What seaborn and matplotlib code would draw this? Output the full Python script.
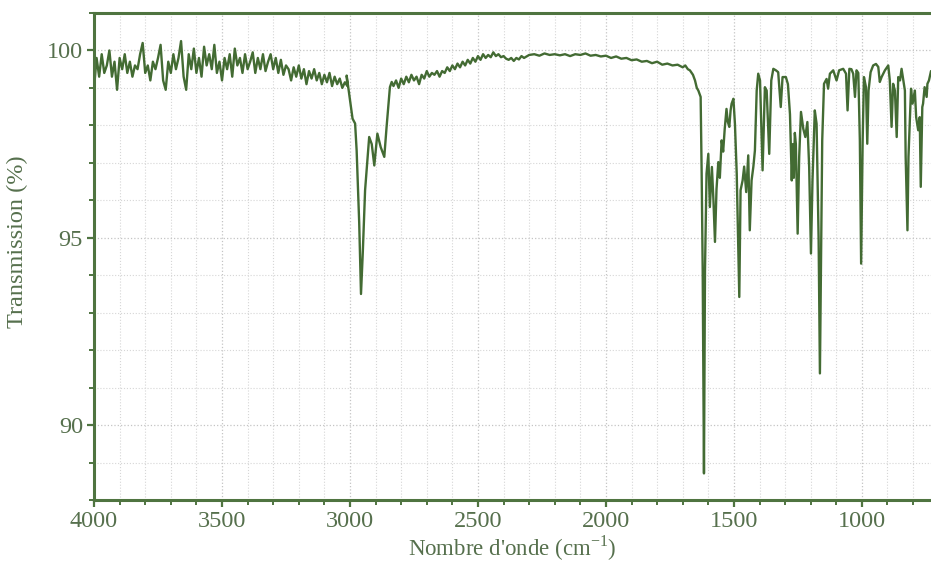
import numpy as np
import pandas as pd
import matplotlib
matplotlib.use("Agg")
import matplotlib.pyplot as plt
from matplotlib.ticker import MultipleLocator
import seaborn as sns

# ======== DATA ========
# noisy baseline region, 4000 -> 3010 cm-1, every 10 cm-1
wn_noise = np.arange(4000, 3000, -10)
t_noise = [
    99.0, 99.8, 99.3, 99.9, 99.4, 99.6, 100.0, 99.3, 99.7, 98.95,
    99.8, 99.5, 99.9, 99.4, 99.7, 99.3, 99.6, 99.5, 99.9, 100.2,
    99.4, 99.6, 99.2, 99.7, 99.5, 99.8, 100.15, 99.2, 98.95, 99.7,
    99.4, 99.9, 99.5, 99.8, 100.25, 99.3, 98.95, 99.9, 99.5, 100.05,
    99.4, 99.8, 99.3, 100.1, 99.6, 99.9, 99.5, 100.15, 99.4, 99.7,
    99.2, 99.8, 99.5, 99.9, 99.3, 100.05, 99.6, 99.8, 99.4, 99.9,
    99.5, 99.7, 99.95, 99.4, 99.8, 99.5, 99.9, 99.45, 99.7, 99.9,
    99.5, 99.8, 99.4, 99.75, 99.35, 99.6, 99.5, 99.2, 99.55, 99.3,
    99.6, 99.25, 99.5, 99.1, 99.45, 99.25, 99.5, 99.2, 99.4, 99.1,
    99.35, 99.15, 99.4, 99.05, 99.3, 99.1, 99.25, 99.0, 99.15, 99.05,
]

# C-H stretching band
wn_ch = [3013, 3000, 2990, 2980, 2974, 2964, 2957, 2950, 2941, 2925,
         2915, 2905, 2893, 2880, 2866, 2857, 2844]
t_ch = [99.33, 98.67, 98.18, 98.05, 97.33, 95.4, 93.5, 94.6, 96.27, 97.69,
        97.5, 96.93, 97.78, 97.42, 97.16, 97.96, 99.02]

# baseline plateau 2837 -> 1630 cm-1
wn_plateau = [2837, 2830, 2820, 2810, 2800, 2790, 2780, 2770, 2760, 2750,
              2740, 2730, 2720, 2710, 2700, 2690, 2680, 2670, 2660, 2650,
              2640, 2630, 2620, 2610, 2600, 2590, 2580, 2570, 2560, 2550,
              2540, 2530, 2520, 2510, 2500, 2490, 2480, 2470, 2460, 2450,
              2440, 2430, 2420, 2410, 2400, 2390, 2380, 2370, 2360, 2350,
              2340, 2330, 2320, 2300, 2280, 2260, 2240, 2220, 2200, 2180,
              2160, 2140, 2120, 2100, 2080, 2060, 2040, 2020, 2000, 1980,
              1960, 1940, 1920, 1900, 1880, 1860, 1840, 1820, 1800, 1780,
              1760, 1740, 1720, 1700, 1690, 1680, 1672, 1660, 1652, 1645,
              1639, 1630]
t_plateau = [99.16, 99.05, 99.2, 99.0, 99.25, 99.1, 99.3, 99.15, 99.35, 99.2,
             99.3, 99.1, 99.35, 99.25, 99.45, 99.3, 99.4, 99.35, 99.45, 99.3,
             99.45, 99.4, 99.55, 99.45, 99.6, 99.5, 99.65, 99.55, 99.7, 99.6,
             99.75, 99.65, 99.8, 99.7, 99.85, 99.75, 99.9, 99.8, 99.88, 99.82,
             99.95, 99.85, 99.9, 99.82, 99.85, 99.78, 99.75, 99.8, 99.72, 99.8,
             99.76, 99.85, 99.8, 99.88, 99.9, 99.86, 99.92, 99.88, 99.9, 99.87,
             99.9, 99.85, 99.9, 99.88, 99.92, 99.86, 99.88, 99.84, 99.86, 99.8,
             99.84, 99.78, 99.8, 99.74, 99.76, 99.7, 99.72, 99.66, 99.7, 99.62,
             99.65, 99.6, 99.62, 99.55, 99.6, 99.5, 99.47, 99.35, 99.2, 99.0,
             98.93, 98.76]

# fingerprint region 1626 -> 730 cm-1
wn_finger = [1626, 1622, 1617, 1613, 1607, 1600, 1594, 1586, 1580, 1574,
             1568, 1561, 1555, 1548, 1542, 1536, 1529, 1524, 1518, 1513,
             1509, 1502, 1496, 1489, 1479, 1474, 1466, 1460, 1452, 1444,
             1438, 1431, 1424, 1418, 1411, 1405, 1398, 1388, 1379, 1372,
             1362, 1354, 1346, 1336, 1327, 1317, 1310, 1297, 1289, 1281,
             1274, 1270, 1266, 1262, 1258, 1251, 1245, 1238, 1229, 1221,
             1213, 1206, 1199, 1193, 1184, 1177, 1169, 1164, 1160, 1155,
             1148, 1138, 1132, 1125, 1112, 1099, 1089, 1073, 1062, 1056,
             1049, 1041, 1034, 1027, 1021, 1014, 1008, 1003, 997, 992,
             984, 979, 974, 966, 956, 945, 936, 930, 923, 910,
             897, 891, 884, 878, 871, 864, 858, 851, 845, 839,
             832, 829, 822, 818, 808, 802, 793, 788, 780, 774,
             770, 764, 761, 755, 747, 744, 738, 730]
t_finger = [96.71, 94.13, 88.71, 94.13, 96.71, 97.24, 95.82, 96.89, 96.0, 94.89,
            96.3, 97.02, 96.6, 97.6, 97.3, 97.9, 98.44, 98.1, 97.96, 98.4,
            98.58, 98.71, 98.04, 96.71, 93.42, 96.27, 96.53, 96.9, 96.22, 97.2,
            95.2, 96.53, 96.9, 97.33, 98.93, 99.38, 99.2, 96.8, 99.02, 98.93,
            97.24, 99.2, 99.51, 99.47, 99.42, 98.49, 99.29, 99.29, 99.1, 98.3,
            96.53, 97.5, 96.6, 97.8, 97.5, 95.11, 97.16, 98.36, 97.91, 97.69,
            98.09, 96.89, 94.58, 96.53, 98.4, 98.04, 94.93, 91.38, 94.04, 97.6,
            99.11, 99.24, 98.98, 99.38, 99.47, 99.2, 99.47, 99.51, 99.38, 98.4,
            99.51, 99.5, 99.38, 98.76, 99.47, 99.4, 97.6, 94.31, 97.6, 99.29,
            99.02, 97.51, 98.93, 99.42, 99.6, 99.64, 99.56, 99.16, 99.29, 99.47,
            99.6, 99.2, 97.96, 99.11, 98.93, 97.69, 99.29, 99.2, 99.51, 99.24,
            98.93, 97.16, 95.2, 97.16, 98.98, 98.58, 98.93, 98.22, 97.87, 98.22,
            96.36, 98.49, 98.58, 99.02, 98.76, 99.11, 99.2, 99.45]

x_ticks = [4000, 3500, 3000, 2500, 2000, 1500, 1000]
y_ticks = [90, 95, 100]

df = pd.DataFrame({
    "wn": np.concatenate([wn_noise, wn_ch, wn_plateau, wn_finger]),
    "T": np.concatenate([t_noise, t_ch, t_plateau, t_finger]),
})

# ======== STYLE ========
line_col = "#436b33"
axis_col = "#4f7440"
text_col = "#56704d"

sns.set_theme(style="white")
plt.rcParams["font.family"] = ["Liberation Serif", "DejaVu Serif"]
plt.rcParams["mathtext.fontset"] = "custom"
plt.rcParams["mathtext.rm"] = "Liberation Serif"

fig = plt.figure(figsize=(9.31, 5.65), dpi=100)
ax = fig.add_axes([0.101, 0.115, 0.899, 0.862])

sns.lineplot(data=df, x="wn", y="T", ax=ax, sort=False, estimator=None,
             color=line_col, linewidth=1.7)

ax.set_xlim(4000, 730)
ax.set_ylim(88, 101)
ax.set_xticks(x_ticks)
ax.set_yticks(y_ticks)
ax.xaxis.set_minor_locator(MultipleLocator(100))
ax.yaxis.set_minor_locator(MultipleLocator(1))

ax.grid(True, which="major", linestyle=":", color="#c4c4c4", linewidth=0.9)
ax.grid(True, which="minor", linestyle=":", color="#d6d6d6", linewidth=0.8)
ax.set_axisbelow(True)

for side in ["left", "bottom", "top"]:
    ax.spines[side].set_color(axis_col)
    ax.spines[side].set_linewidth(2.2)
ax.spines["right"].set_visible(False)

ax.tick_params(axis="both", which="major", direction="out", length=5, width=1.6,
               color=axis_col, labelcolor=text_col, labelsize=17.5, pad=3)
ax.tick_params(axis="both", which="minor", direction="out", length=3.5, width=1.4,
               color=axis_col)
ax.tick_params(axis="x", which="both", bottom=True, top=False)
ax.tick_params(axis="y", which="both", left=True, right=False)

ax.set_xlabel("Nombre d'onde (cm$^{-1}$)", fontsize=16.5, color=text_col, labelpad=1)
ax.set_ylabel("Transmission (%)", fontsize=17.5, color=text_col)
ax.yaxis.set_label_coords(-0.079, 0.53)

fig.savefig("out.png", dpi=100)
